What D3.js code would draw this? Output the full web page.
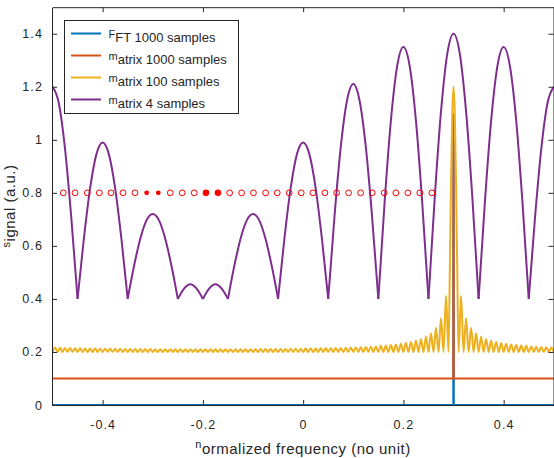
<!DOCTYPE html>
<html>
<head>
<meta charset="utf-8">
<script src="https://cdn.jsdelivr.net/npm/d3@7"></script>
<style>
  body { margin: 0; background: #fff; }
  text { font-family: "Liberation Sans", Arial, sans-serif; fill: #262626; }
</style>
</head>
<body>
<script>
// chart values

var xTicks = [-0.4, -0.2, 0, 0.2, 0.4];
var xTickLabels = ["-0.4", "-0.2", "0", "0.2", "0.4"];
var yTicks = [0, 0.2, 0.4, 0.6, 0.8, 1.0, 1.2, 1.4];
var yTickLabels = ["0", "0.2", "0.4", "0.6", "0.8", "1", "1.2", "1.4"];

var seriesNames = ["FFT 1000 samples", "matrix 1000 samples", "matrix 100 samples", "matrix 4 samples"];
var seriesColors = ["#0072bd", "#d95319", "#edb120", "#7e2f8e"];

// FFT 1000 samples: flat at 0 with one spike at 0.3
var fftValues = [[-0.5, 0], [0.2995, 0], [0.3, 1.0], [0.3005, 0], [0.5, 0]];

// matrix 1000 samples: flat at 0.1 with one spike at 0.3
var matrix1000Values = [[-0.5, 0.1], [0.2995, 0.1], [0.3, 1.1], [0.3005, 0.1], [0.5, 0.1]];

// matrix 100 samples: main lobe around 0.3, side lobes every 0.01
var matrix100Floor = 0.2;
var matrix100LobeWidth = 0.01;
var matrix100Main = [[0.29, 0.2], [0.2925, 0.5], [0.295, 0.837], [0.2975, 1.1], [0.3, 1.2],
                     [0.3025, 1.1], [0.305, 0.837], [0.3075, 0.5], [0.31, 0.2]];
// side lobe heights, counted outward from the main lobe
var matrix100LeftLobes = [
  0.412, 0.327, 0.291, 0.271, 0.258, 0.249, 0.243, 0.238, 0.234, 0.231,
  0.228, 0.226, 0.224, 0.223, 0.221, 0.220, 0.219, 0.218, 0.217, 0.217,
  0.216, 0.215, 0.215, 0.214, 0.214, 0.214, 0.213, 0.213, 0.213, 0.212,
  0.212, 0.212, 0.211, 0.211, 0.211, 0.211, 0.211, 0.211, 0.210, 0.210,
  0.210, 0.210, 0.210, 0.210, 0.210, 0.210, 0.210, 0.210, 0.210, 0.210,
  0.210, 0.210, 0.210, 0.210, 0.210, 0.210, 0.210, 0.210, 0.210, 0.211,
  0.211, 0.211, 0.211, 0.211, 0.211, 0.212, 0.212, 0.212, 0.212, 0.212,
  0.213, 0.213, 0.213, 0.214, 0.214, 0.215, 0.215, 0.216, 0.217];
var matrix100RightLobes = [
  0.412, 0.327, 0.291, 0.271, 0.258, 0.249, 0.243, 0.238, 0.234, 0.231,
  0.228, 0.226, 0.224, 0.223, 0.221, 0.220, 0.219, 0.218, 0.217];

// matrix 4 samples: arches with a floor at 0.4
var matrix4Values = [
  [-0.5, 1.20], [-0.4875, 1.139], [-0.475, 0.966], [-0.4625, 0.706], [-0.45, 0.40],
  [-0.4375, 0.626], [-0.425, 0.817], [-0.4125, 0.945], [-0.4, 0.99], [-0.3875, 0.945], [-0.375, 0.817], [-0.3625, 0.626], [-0.35, 0.40],
  [-0.3375, 0.523], [-0.325, 0.626], [-0.3125, 0.696], [-0.3, 0.72], [-0.2875, 0.696], [-0.275, 0.626], [-0.2625, 0.523], [-0.25, 0.40],
  [-0.2375, 0.439], [-0.225, 0.455], [-0.2125, 0.439], [-0.2, 0.40],
  [-0.1875, 0.439], [-0.175, 0.455], [-0.1625, 0.439], [-0.15, 0.40],
  [-0.1375, 0.523], [-0.125, 0.626], [-0.1125, 0.696], [-0.1, 0.72], [-0.0875, 0.696], [-0.075, 0.626], [-0.0625, 0.523], [-0.05, 0.40],
  [-0.0375, 0.626], [-0.025, 0.817], [-0.0125, 0.945], [0, 0.99], [0.0125, 0.945], [0.025, 0.817], [0.0375, 0.626], [0.05, 0.40],
  [0.0625, 0.71], [0.075, 0.973], [0.0875, 1.148], [0.1, 1.21], [0.1125, 1.148], [0.125, 0.973], [0.1375, 0.71], [0.15, 0.40],
  [0.1625, 0.764], [0.175, 1.072], [0.1875, 1.278], [0.2, 1.35], [0.2125, 1.278], [0.225, 1.072], [0.2375, 0.764], [0.25, 0.40],
  [0.2625, 0.783], [0.275, 1.107], [0.2875, 1.324], [0.3, 1.40], [0.3125, 1.324], [0.325, 1.107], [0.3375, 0.783], [0.35, 0.40],
  [0.3625, 0.764], [0.375, 1.072], [0.3875, 1.278], [0.4, 1.35], [0.4125, 1.278], [0.425, 1.072], [0.4375, 0.764], [0.45, 0.40],
  [0.4625, 0.706], [0.475, 0.966], [0.4875, 1.139], [0.5, 1.20]];

// red markers at 0.8
var dotLevel = 0.8;
var dotX = [-0.4785, -0.4551, -0.4306, -0.4067, -0.3834, -0.3594, -0.3355, -0.3122,
            -0.2890, -0.2651, -0.2412, -0.2173, -0.1939, -0.1700, -0.1467, -0.1227,
            -0.0992, -0.0749, -0.0517, -0.0278, -0.0039, 0.0194, 0.0434, 0.0667,
            0.0906, 0.1146, 0.1377, 0.1616, 0.1849, 0.2089, 0.2328, 0.2567];
// o = open ring, s = small filled dot, b = big filled dot
var dotKind = ["o", "o", "o", "o", "o", "o", "o", "s", "s", "o", "o", "o", "b", "b", "o", "o",
               "o", "o", "o", "o", "o", "o", "o", "o", "o", "o", "o", "o", "o", "o", "o", "o"];

var xLabel = "normalized frequency (no unit)";
var yLabel = "signal (a.u.)";

window.onload = function(){

    var w = 554, h = 458;
    var left = 52.5, right = 553.8, top = 7.2, bottom = 405;
    var ink = "#262626";

    var svg = d3.select("body")
       .append("svg")
       .attr("width", w)
       .attr("height", h);

    var x = d3.scaleLinear().domain([-0.5, 0.5]).range([left, right]);
    var y = d3.scaleLinear().domain([0, 1.5]).range([bottom, top]);

    svg.append("clipPath").attr("id", "plotClip")
       .append("rect")
       .attr("x", 52).attr("y", 7)
       .attr("width", 502).attr("height", 398.5);

    var plot = svg.append("g").attr("clip-path", "url(#plotClip)");

    var line = d3.line()
       .x(function(d){ return x(d[0]); })
       .y(function(d){ return y(d[1]); });

    var smooth = d3.line()
       .x(function(d){ return x(d[0]); })
       .y(function(d){ return y(d[1]); })
       .curve(d3.curveMonotoneX);

    // build the 100-sample curve from its lobes
    var m100 = [];
    var k;
    for (k = matrix100LeftLobes.length; k >= 1; k--) {
        var z = matrix100Main[0][0] - k * matrix100LobeWidth;
        m100.push([z, matrix100Floor]);
        m100.push([z + matrix100LobeWidth / 2, matrix100LeftLobes[k - 1]]);
    }
    m100 = m100.concat(matrix100Main);
    for (k = 1; k <= matrix100RightLobes.length; k++) {
        var z2 = matrix100Main[matrix100Main.length - 1][0] + (k - 1) * matrix100LobeWidth;
        m100.push([z2 + matrix100LobeWidth / 2, matrix100RightLobes[k - 1]]);
        m100.push([z2 + matrix100LobeWidth, matrix100Floor]);
    }

    // split the 4-sample curve into arches at its minima (sharp V bottoms)
    var arches = [];
    var cur = [matrix4Values[0]];
    for (k = 1; k < matrix4Values.length; k++) {
        cur.push(matrix4Values[k]);
        var prev = matrix4Values[k - 1], next = matrix4Values[k + 1];
        if (next && matrix4Values[k][1] < prev[1] && matrix4Values[k][1] < next[1]) {
            arches.push(cur);
            cur = [matrix4Values[k]];
        }
    }
    arches.push(cur);

    plot.append("path").datum(fftValues)
       .attr("d", line)
       .attr("fill", "none").attr("stroke", seriesColors[0]).attr("stroke-width", 2);

    plot.append("path").datum(matrix1000Values)
       .attr("d", line)
       .attr("fill", "none").attr("stroke", seriesColors[1]).attr("stroke-width", 2);

    plot.append("path").datum(m100)
       .attr("d", smooth)
       .attr("fill", "none").attr("stroke", seriesColors[2]).attr("stroke-width", 2);

    plot.selectAll(".arch").data(arches).enter()
       .append("path")
       .attr("class", "arch")
       .attr("d", smooth)
       .attr("fill", "none").attr("stroke", seriesColors[3]).attr("stroke-width", 2)
       .attr("stroke-linejoin", "round");

    // markers
    plot.selectAll(".dot").data(dotX).enter()
       .append("circle")
       .attr("class", "dot")
       .attr("cx", function(d){ return x(d); })
       .attr("cy", y(dotLevel))
       .attr("r", function(d, i){ return dotKind[i] == "b" ? 3.3 : dotKind[i] == "s" ? 2.4 : 2.9; })
       .attr("fill", function(d, i){ return dotKind[i] == "o" ? "none" : "#ff0000"; })
       .attr("stroke", function(d, i){ return dotKind[i] == "o" ? "#ff0000" : "none"; })
       .attr("stroke-width", 1);

    // axes (ticks point inward, box all round)
    var tickFont = function(g){
        g.select(".domain").attr("stroke", ink);
        g.selectAll(".tick line").attr("stroke", ink);
        g.selectAll(".tick text")
         .attr("fill", ink)
         .style("font-family", "\"Liberation Sans\", Arial, sans-serif")
         .style("font-size", "12.5px")
         .style("letter-spacing", "1.1px");
    };

    svg.append("g")
       .attr("transform", "translate(0," + bottom + ")")
       .call(d3.axisBottom(x).tickValues(xTicks)
            .tickFormat(function(d, i){ return xTickLabels[i]; })
            .tickSizeInner(-5).tickSizeOuter(0).tickPadding(15))
       .call(tickFont);

    svg.append("g")
       .attr("transform", "translate(0," + top + ")")
       .call(d3.axisTop(x).tickValues(xTicks).tickFormat("")
            .tickSizeInner(-5).tickSizeOuter(0))
       .call(tickFont);

    svg.append("g")
       .attr("transform", "translate(" + 52 + ",0)")
       .call(d3.axisLeft(y).tickValues(yTicks)
            .tickFormat(function(d, i){ return yTickLabels[i]; })
            .tickSizeInner(-5).tickSizeOuter(0).tickPadding(9))
       .call(tickFont);

    svg.append("g")
       .attr("transform", "translate(" + 553.5 + ",0)")
       .call(d3.axisRight(y).tickValues(yTicks).tickFormat("")
            .tickSizeInner(-5).tickSizeOuter(0))
       .call(tickFont);

    // axis titles: first letter raised and smaller, as in the picture
    var xt = svg.append("text")
       .attr("x", 303).attr("y", 454)
       .attr("text-anchor", "middle")
       .style("font-size", "15px")
       .style("letter-spacing", "0.5px");
    xt.append("tspan").text(xLabel.charAt(0)).style("font-size", "11px").attr("dy", -6);
    xt.append("tspan").text(xLabel.slice(1)).attr("dy", 6);

    var yt = svg.append("text")
       .attr("transform", "translate(15,206) rotate(-90)")
       .attr("text-anchor", "middle")
       .style("font-size", "15px")
       .style("letter-spacing", "0.5px");
    yt.append("tspan").text(yLabel.charAt(0)).style("font-size", "11px").attr("dy", -5);
    yt.append("tspan").text(yLabel.slice(1)).attr("dy", 5);

    // legend
    var legend = svg.append("g");
    legend.append("rect")
       .attr("x", 64.5).attr("y", 20.5)
       .attr("width", 174).attr("height", 93)
       .attr("fill", "#fff").attr("stroke", ink).attr("stroke-width", 1);

    seriesNames.forEach(function(name, i){
        var ly = 33.5 + 22 * i;
        legend.append("line")
           .attr("x1", 71).attr("x2", 101)
           .attr("y1", ly).attr("y2", ly)
           .attr("stroke", seriesColors[i]).attr("stroke-width", 2);
        var t = legend.append("text")
           .attr("x", 108.5).attr("y", ly + 8.7)
           .style("font-size", "13px");
        t.append("tspan").text(name.charAt(0)).style("font-size", "11px").attr("dy", -4.5);
        t.append("tspan").text(name.slice(1)).attr("dy", 4.5);
    });
};
</script>
</body>
</html>
